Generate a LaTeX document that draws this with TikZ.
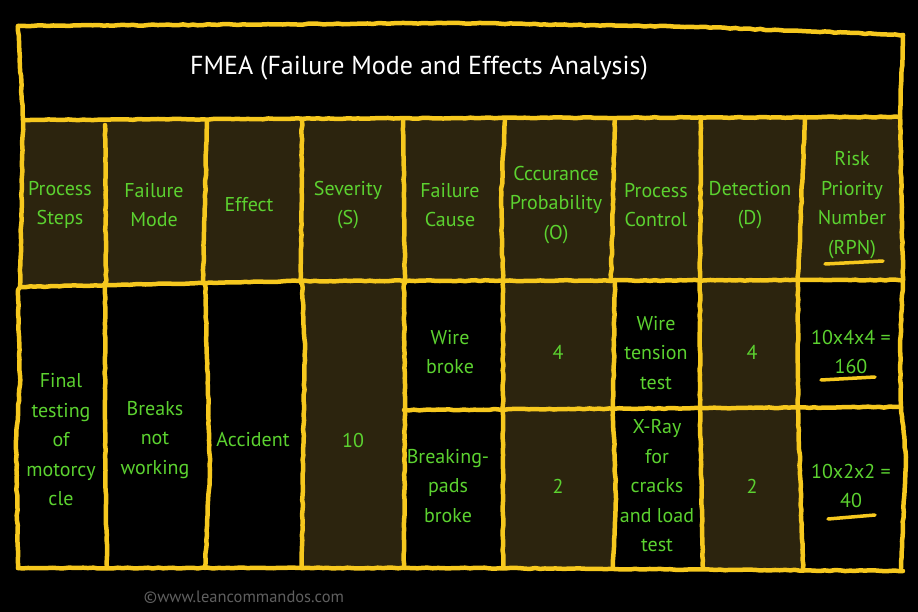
\documentclass[tikz,border=0pt]{standalone}
\usepackage{fontspec}
\setmainfont{PT Sans}
\usetikzlibrary{decorations.pathmorphing}
\definecolor{chalk}{RGB}{246,200,30}
\definecolor{olive}{RGB}{44,36,14}
\definecolor{lgreen}{RGB}{92,210,48}
\definecolor{wm}{RGB}{95,95,95}
\begin{document}
\begin{tikzpicture}[x=1pt,y=-1pt,
  grid/.style={draw=chalk, line width=4.5pt, line cap=round, line join=round,
    decorate, decoration={random steps, segment length=5pt, amplitude=0.5pt}},
  uline/.style={draw=chalk, line width=3.5pt, line cap=round},
  lbl/.style={text=lgreen, font=\fontsize{20}{29.5}\selectfont, align=center, inner sep=0pt},
]
\pgfmathsetseed{7}
\fill[black] (0,0) rectangle (918,612);
\useasboundingbox (0,0) rectangle (918,612);

% fills
\fill[olive] (22,120) -- (901,117) -- (903,280) -- (300,281) -- (20,287) -- cycle;
\fill[olive] (302,283) -- (404,283) -- (405,410) -- (404,568) -- (302,568) -- (305,350) -- cycle;
\fill[olive] (503,280) -- (615,280) -- (613,410) -- (616,500) -- (613,568) -- (503,568) -- cycle;
\fill[olive] (700,280) -- (798,280) -- (798,410) -- (800,470) -- (803,568) -- (703,568) -- (700,410) -- cycle;

% outer frame and horizontals
\draw[grid] (18,26) -- (460,23) -- (700,27) -- (903,35);
\draw[grid] (903,35) -- (900,117) -- (903,280) -- (900,345) -- (901,407) -- (906,457) -- (901,568);
\draw[grid] (18,26) -- (23,120) -- (20,287) -- (18,290) -- (20,385) -- (16,440) -- (18,568);
\draw[grid] (18,568) -- (460,568) -- (903,571);
\draw[grid] (23,120) -- (460,118) -- (900,117);
\draw[grid] (20,287) -- (300,281) -- (903,280);
\draw[grid] (404,410) -- (901,407);

% header verticals
\draw[grid] (105,125) -- (106,283);
\draw[grid] (207,120) -- (203,283);
\draw[grid] (302,120) -- (301,283);
\draw[grid] (403,120) -- (405,283);
\draw[grid] (505,119) -- (501,200) -- (503,281);
\draw[grid] (615,119) -- (611,281);
\draw[grid] (701,118) -- (700,280);
\draw[grid] (805,117) -- (798,280);

% body verticals
\draw[grid] (105,283) -- (105,430) -- (107,568);
\draw[grid] (205,283) -- (208,390) -- (210,470) -- (205,568);
\draw[grid] (302,283) -- (305,350) -- (303,450) -- (302,568);
\draw[grid] (404,283) -- (405,410) -- (404,568);
\draw[grid] (503,280) -- (503,568);
\draw[grid] (615,280) -- (613,410) -- (616,500) -- (613,568);
\draw[grid] (700,280) -- (700,410) -- (703,568);
\draw[grid] (798,280) -- (798,410) -- (800,470) -- (803,568);

% title
\node[text=white, font=\fontsize{26}{30}\selectfont, inner sep=0pt] (title) at (419,68) {FMEA (Failure Mode and Effects Analysis)};

% header labels
\node[lbl] (h1) at (60,205) {Process\\Steps};
\node[lbl] (h2) at (154,205) {Failure\\Mode};
\node[lbl] (h3) at (249,205) {Effect};
\node[lbl] (h4) at (348,205) {Severity\\(S)};
\node[lbl] (h5) at (450,205) {Failure\\Cause};
\node[lbl] (h6) at (556,205) {Cccurance\\Probability\\(O)};
\node[lbl] (h7) at (656,205) {Process\\Control};
\node[lbl] (h8) at (750,205) {Detection\\(D)};
\node[lbl] (h9) at (852,205) {Risk\\Priority\\Number\\(RPN)};

% body labels
\node[lbl] (b1) at (61,440) {Final\\testing\\of\\motorcy\\cle};
\node[lbl] (b2) at (155,440) {Breaks\\not\\working};
\node[lbl] (b3) at (253,440) {Accident};
\node[lbl] (b4) at (353,440) {10};
\node[lbl] (b5a) at (450,352) {Wire\\broke};
\node[lbl] (b5b) at (448,486) {Breaking-\\pads\\broke};
\node[lbl] (b6a) at (558,352) {4};
\node[lbl] (b6b) at (558,486) {2};
\node[lbl] (b7a) at (656,353) {Wire\\tension\\test};
\node[lbl] (b7b) at (657,486) {X-Ray\\for\\cracks\\and load\\test};
\node[lbl] (b8a) at (752,352) {4};
\node[lbl] (b8b) at (752,486) {2};
\node[lbl] (b9a) at (851,352) {10x4x4 =\\160};
\node[lbl] (b9b) at (851,486) {10x2x2 =\\40};

% underlines
\draw[uline] (825,264) -- (883,261);
\draw[uline] (821,380) -- (875,377);
\draw[uline] (828,519) -- (875,515);

% watermark
\node[text=wm, font=\fontsize{16.5}{18}\selectfont, inner sep=0pt] (wmark) at (244,597) {©www.leancommandos.com};
\end{tikzpicture}
\end{document}
